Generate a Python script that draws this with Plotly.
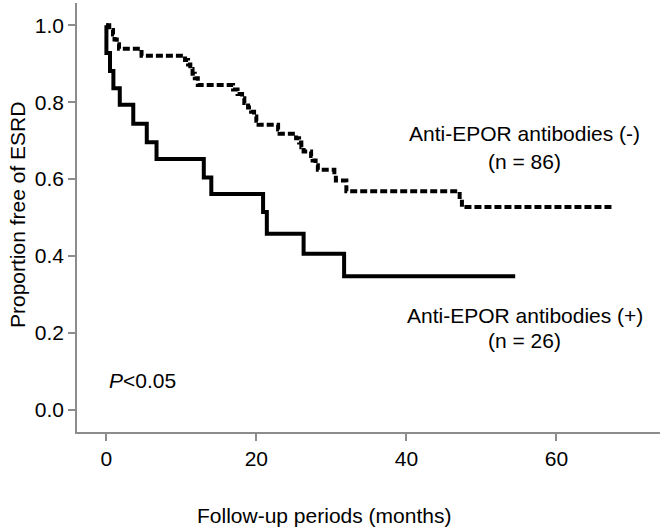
import plotly.graph_objects as go

# Kaplan-Meier steps (months, proportion free of ESRD)
neg_months = [0, 0.4, 0.9, 1.1, 1.4, 1.7, 4.7, 10.5, 10.9, 11.2, 11.5, 11.8, 12.2,
              16.9, 17.5, 18.1, 18.4, 18.9, 19.3, 19.7, 20.0, 20.3, 22.9, 23.1,
              25.3, 25.7, 26.0, 26.3, 27.3, 27.5, 27.9, 28.2, 30.4, 30.6, 32.0,
              47.1, 47.4, 67.4]
neg_surv = [1.0, 0.988, 0.976, 0.963, 0.951, 0.939, 0.921, 0.91, 0.898, 0.886, 0.874, 0.862, 0.845,
            0.833, 0.821, 0.810, 0.798, 0.786, 0.775, 0.763, 0.752, 0.741, 0.729, 0.718,
            0.706, 0.695, 0.683, 0.672, 0.660, 0.648, 0.636, 0.624, 0.610, 0.596, 0.568,
            0.548, 0.527, 0.527]

pos_months = [0, 0.02, 0.5, 0.95, 1.8, 3.6, 5.4, 6.7, 13.0, 14.0, 20.9, 21.4, 26.3, 31.7, 54.5]
pos_surv = [1.0, 0.928, 0.881, 0.836, 0.793, 0.744, 0.696, 0.652, 0.604, 0.561, 0.514, 0.458,
            0.406, 0.347, 0.347]

x_ticks = [0, 20, 40, 60]
y_ticks = [0.0, 0.2, 0.4, 0.6, 0.8, 1.0]

FONT = "Liberation Sans, Arial, sans-serif"
AXIS_GREY = "#8c8c8c"

fig = go.Figure()

fig.add_trace(
    go.Scatter(x=neg_months, y=neg_surv, mode="lines", line_shape="hv",
               name="Anti-EPOR antibodies (-)",
               line=dict(color="black", width=4, dash="7px,3px"))
)
fig.add_trace(
    go.Scatter(x=pos_months, y=pos_surv, mode="lines", line_shape="hv",
               name="Anti-EPOR antibodies (+)",
               line=dict(color="black", width=4))
)

ann_font = dict(family=FONT, size=21, color="black")
labels = [
    (55.8, 0.719, "Anti-EPOR antibodies (-)"),
    (55.8, 0.645, "(n = 86)"),
    (55.8, 0.246, "Anti-EPOR antibodies (+)"),
    (55.8, 0.181, "(n = 26)"),
]
for lx, ly, txt in labels:
    fig.add_annotation(x=lx, y=ly, text=txt, showarrow=False, xref="x", yref="y",
                       xanchor="center", yanchor="middle", font=ann_font)

fig.add_annotation(x=0.1, y=0.077, text="<i>P</i>&lt;0.05", showarrow=False,
                   xref="x", yref="y", xanchor="left", yanchor="middle", font=ann_font)

# axis titles
fig.add_annotation(x=29.0, y=-0.1935, text="Follow-up periods (months)", showarrow=False,
                   xref="x", yref="paper", xanchor="center", yanchor="middle",
                   font=ann_font)
fig.add_annotation(x=-0.101, y=0.506, text="Proportion free of ESRD", showarrow=False,
                   xref="paper", yref="paper", xanchor="center", yanchor="middle",
                   textangle=-90, font=ann_font)

axis_style = dict(
    showgrid=False,
    zeroline=False,
    showline=True,
    linecolor=AXIS_GREY,
    linewidth=1.5,
    ticks="outside",
    ticklen=7,
    tickcolor=AXIS_GREY,
    tickwidth=1.5,
    tickfont=dict(family=FONT, size=21, color="black"),
)

fig.update_layout(
    width=664,
    height=528,
    showlegend=False,
    paper_bgcolor="white",
    plot_bgcolor="white",
    margin=dict(l=77, r=4, t=3, b=96),
    font=dict(family=FONT, size=21, color="black"),
    xaxis=dict(range=[-3.9, 73.8], tickvals=x_ticks, **axis_style),
    yaxis=dict(range=[-0.058, 1.058], tickvals=y_ticks, tickformat=".1f", **axis_style),
)

# the page's default 8px body margin would shift the chart
fig.write_html("out.html", config={"displayModeBar": False},
               post_script="document.body.style.margin='0';")
